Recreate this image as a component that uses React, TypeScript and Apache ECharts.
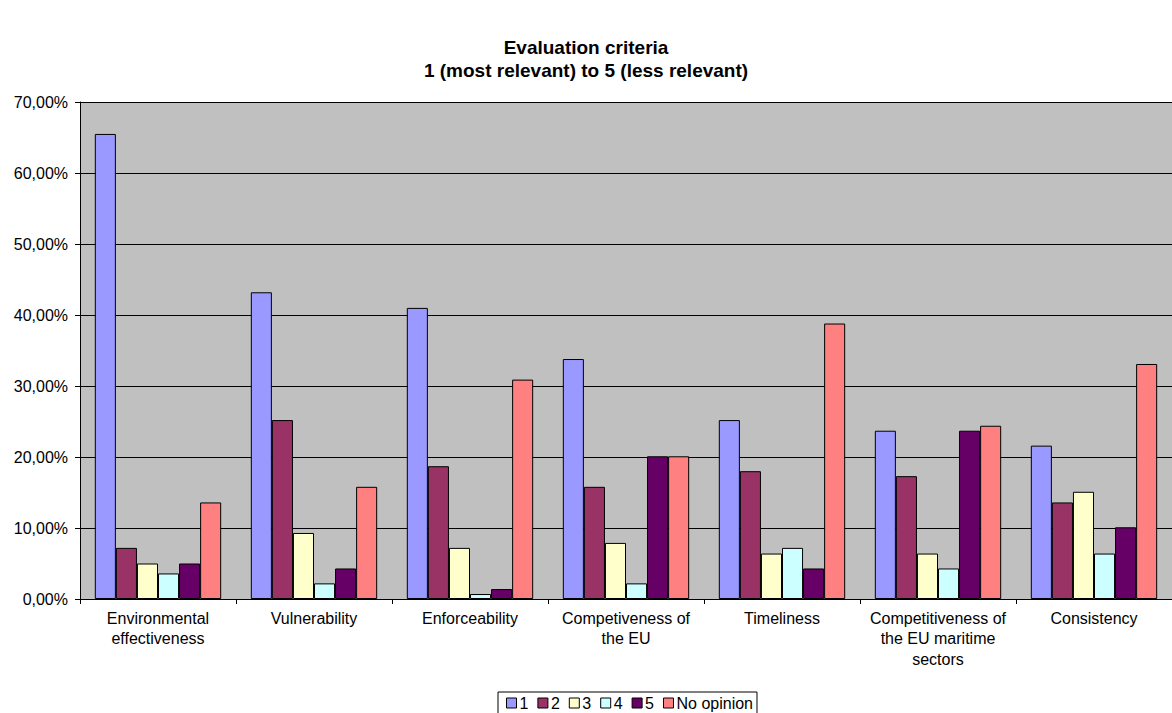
import React, { useEffect, useRef } from "react";
import * as echarts from "echarts";

const categories = [
  "Environmental\neffectiveness",
  "Vulnerability",
  "Enforceability",
  "Competiveness of\nthe EU",
  "Timeliness",
  "Competitiveness of\nthe EU maritime\nsectors",
  "Consistency",
];
const seriesNames = ["1", "2", "3", "4", "5", "No opinion"];
const s1 = [65.5, 43.2, 41.0, 33.8, 25.2, 23.7, 21.6];
const s2 = [7.2, 25.2, 18.7, 15.8, 18.0, 17.3, 13.6];
const s3 = [5.0, 9.3, 7.2, 7.9, 6.4, 6.4, 15.1];
const s4 = [3.6, 2.2, 0.7, 2.2, 7.2, 4.3, 6.4];
const s5 = [5.0, 4.3, 1.4, 20.1, 4.3, 23.7, 10.1];
const s6 = [13.6, 15.8, 30.9, 20.1, 38.8, 24.4, 33.1];
const seriesData = [s1, s2, s3, s4, s5, s6];
const colors = ["#9999FF", "#993366", "#FFFFCC", "#CCFFFF", "#660066", "#FF8080"];

export default function App() {
  const ref = useRef<HTMLDivElement>(null);
  useEffect(() => {
    if (!ref.current) return;
    const chart = echarts.init(ref.current, null, { renderer: "svg" });
    const font = "Liberation Sans, Arial, sans-serif";
    chart.setOption({
      animation: false,
      backgroundColor: "#ffffff",
      title: {
        text: "Evaluation criteria\n1 (most relevant) to 5 (less relevant)",
        left: "center",
        top: 31,
        textStyle: {
          fontFamily: font,
          fontWeight: "bold",
          fontSize: 19,
          lineHeight: 23,
          color: "#000",
        },
      },
      grid: { left: 80, right: 0, top: 102, bottom: 114, backgroundColor: "#C0C0C0", show: true, borderWidth: 0 },
      legend: {
        data: seriesNames,
        left: 498,
        top: 692,
        itemWidth: 10,
        itemHeight: 10,
        itemGap: 9,
        icon: "rect",
        borderColor: "#000",
        borderWidth: 1,
        padding: [3, 4, 6, 8],
        textStyle: { fontFamily: font, fontSize: 16, color: "#000", padding: [0, 0, 0, -2] },
        itemStyle: { borderColor: "#000", borderWidth: 1 },
      },
      xAxis: {
        type: "category",
        data: categories,
        axisLine: { lineStyle: { color: "#000", width: 1 } },
        axisTick: { show: true, length: 5, lineStyle: { color: "#000" } },
        axisLabel: {
          fontFamily: font,
          fontSize: 16,
          color: "#000",
          lineHeight: 20.5,
          margin: 9,
          interval: 0,
        },
      },
      yAxis: {
        type: "value",
        min: 0,
        max: 70,
        interval: 10,
        axisLine: { show: true, lineStyle: { color: "#000" } },
        axisTick: { show: true, length: 5, lineStyle: { color: "#000" } },
        splitLine: { show: true, lineStyle: { color: "#000", width: 1 } },
        axisLabel: {
          fontFamily: font,
          fontSize: 16,
          color: "#000",
          margin: 12,
          formatter: (v: number) => v.toFixed(2).replace(".", ",") + "%",
        },
      },
      series: seriesNames.map((name, i) => ({
        name,
        type: "bar",
        data: seriesData[i],
        barGap: "0%",
        barCategoryGap: "19%",
        itemStyle: { color: colors[i], borderColor: "#000", borderWidth: 1 },
      })),
    });
    return () => chart.dispose();
  }, []);
  return <div ref={ref} style={{ width: 1172, height: 713, position: "absolute", left: 0, top: 0 }} />;
}
